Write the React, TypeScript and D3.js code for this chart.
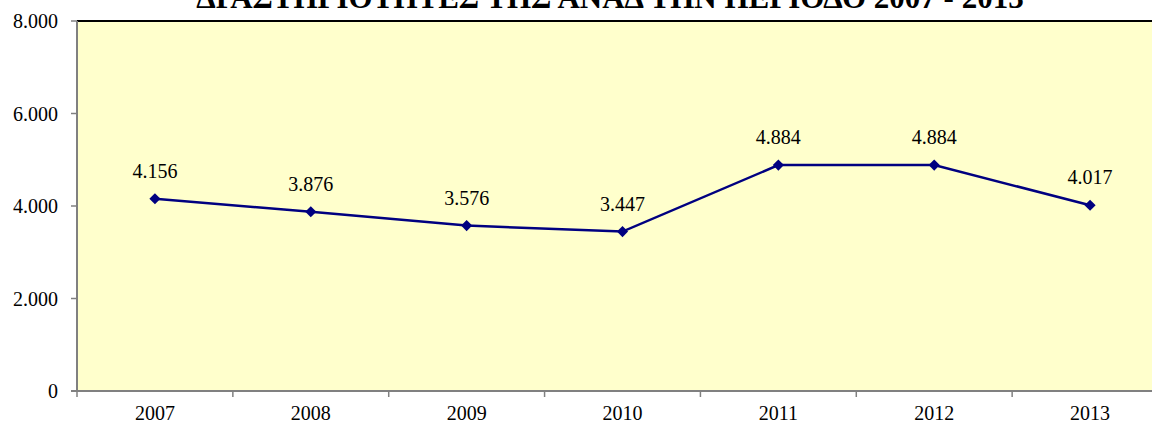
import React, { useEffect, useRef } from "react";
import * as d3 from "d3";

const years = ["2007", "2008", "2009", "2010", "2011", "2012", "2013"];
const values = [4156, 3876, 3576, 3447, 4884, 4884, 4017];
const yTicks = [0, 2000, 4000, 6000, 8000];
const title = "ΔΡΑΣΤΗΡΙΟΤΗΤΕΣ ΤΗΣ ΑΝΑΔ ΤΗΝ ΠΕΡΙΟΔΟ 2007 - 2013";

const fmt = (v: number) => d3.format(",")(v).replace(/,/g, ".");

const App = () => {
  const ref = useRef<SVGSVGElement>(null);

  useEffect(() => {
    const width = 1152;
    const height = 426;
    const left = 77;
    const right = 1168;
    const top = 21;
    const bottom = 391;
    const font = "Liberation Serif, Times New Roman, serif";

    const svg = d3.select(ref.current);
    svg.selectAll("*").remove();
    svg.attr("width", width).attr("height", height);

    const x = d3.scaleBand().domain(years).range([left, right]);
    const y = d3.scaleLinear().domain([0, 8000]).range([bottom, top]);

    // Plot area
    svg
      .append("rect")
      .attr("x", left)
      .attr("y", top)
      .attr("width", right - left)
      .attr("height", bottom - top)
      .attr("fill", "#FFFFCC");

    // top border
    svg
      .append("line")
      .attr("x1", left)
      .attr("x2", right)
      .attr("y1", top)
      .attr("y2", top)
      .attr("stroke", "#000")
      .attr("stroke-width", 2);

    // Y axis
    const yAxis = svg.append("g");
    yAxis
      .append("line")
      .attr("x1", left)
      .attr("x2", left)
      .attr("y1", top)
      .attr("y2", bottom)
      .attr("stroke", "#808080")
      .attr("stroke-width", 2);
    yAxis
      .selectAll("line.tick")
      .data(yTicks)
      .join("line")
      .attr("class", "tick")
      .attr("x1", left - 6)
      .attr("x2", left)
      .attr("y1", (d) => y(d))
      .attr("y2", (d) => y(d))
      .attr("stroke", "#808080")
      .attr("stroke-width", 1.5);
    yAxis
      .selectAll("text")
      .data(yTicks)
      .join("text")
      .attr("x", left - 19)
      .attr("y", (d) => y(d) + 7)
      .attr("text-anchor", "end")
      .attr("font-family", font)
      .attr("font-size", 20)
      .attr("fill", "#000")
      .text((d) => fmt(d));

    // X axis
    const xAxis = svg.append("g");
    xAxis
      .append("line")
      .attr("x1", left - 6)
      .attr("x2", right)
      .attr("y1", bottom)
      .attr("y2", bottom)
      .attr("stroke", "#808080")
      .attr("stroke-width", 2);
    xAxis
      .selectAll("line.tick")
      .data(years)
      .join("line")
      .attr("class", "tick")
      .attr("x1", (d) => x(d)!)
      .attr("x2", (d) => x(d)!)
      .attr("y1", bottom)
      .attr("y2", bottom + 6)
      .attr("stroke", "#808080")
      .attr("stroke-width", 1.5);
    xAxis
      .selectAll("text")
      .data(years)
      .join("text")
      .attr("x", (d) => x(d)! + x.bandwidth() / 2)
      .attr("y", bottom + 29)
      .attr("text-anchor", "middle")
      .attr("font-family", font)
      .attr("font-size", 20)
      .attr("fill", "#000")
      .text((d) => d);

    // Line
    const cx = (i: number) => x(years[i])! + x.bandwidth() / 2;
    const line = d3
      .line<number>()
      .x((d, i) => cx(i))
      .y((d) => y(d));
    svg
      .append("path")
      .datum(values)
      .attr("d", line)
      .attr("fill", "none")
      .attr("stroke", "#000080")
      .attr("stroke-width", 2.5);

    const marker = d3.symbol().type(d3.symbolSquare).size(62);
    svg
      .selectAll("path.marker")
      .data(values)
      .join("path")
      .attr("class", "marker")
      .attr("d", marker)
      .attr("transform", (d, i) => `translate(${cx(i)},${y(d)}) rotate(45)`)
      .attr("fill", "#000080");

    // Data labels
    svg
      .selectAll("text.label")
      .data(values)
      .join("text")
      .attr("class", "label")
      .attr("x", (d, i) => cx(i))
      .attr("y", (d) => y(d) - 21)
      .attr("text-anchor", "middle")
      .attr("font-family", font)
      .attr("font-size", 20)
      .attr("fill", "#000")
      .text((d) => fmt(d));

    // Title (cut off at the top, as in the original)
    svg
      .append("text")
      .attr("x", 610)
      .attr("y", 8)
      .attr("text-anchor", "middle")
      .attr("font-family", font)
      .attr("font-weight", "bold")
      .attr("font-size", 31)
      .attr("fill", "#000")
      .text(title);
  }, []);

  return (
    <svg
      ref={ref}
      style={{ position: "absolute", left: 0, top: 0, display: "block" }}
    />
  );
};

export default App;
